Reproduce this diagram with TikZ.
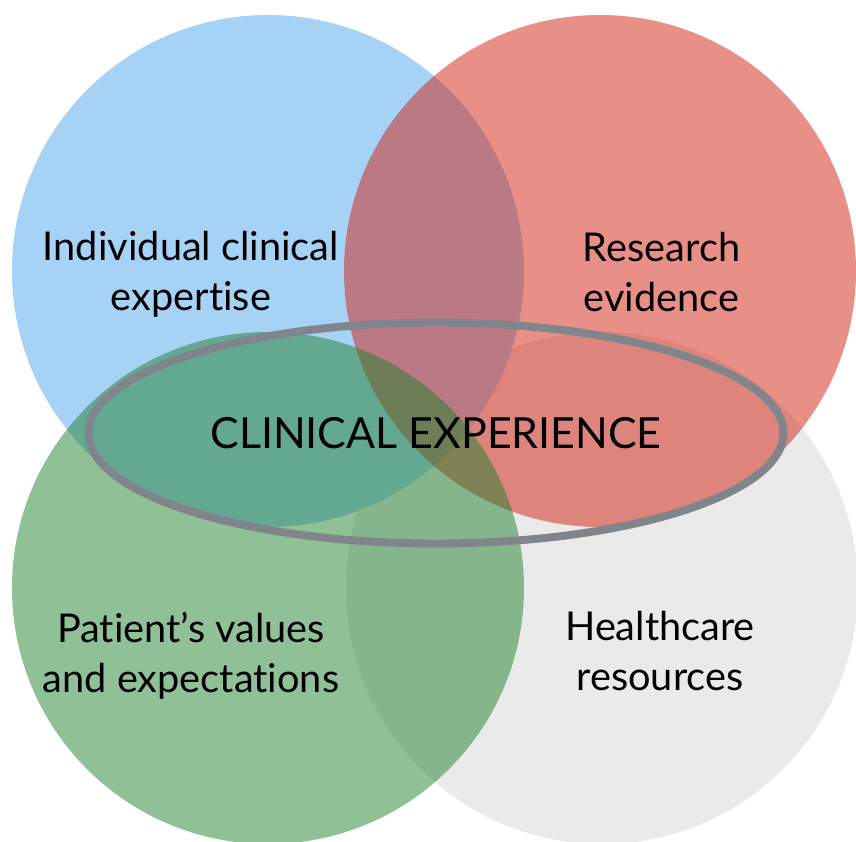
\documentclass[tikz,border=0pt]{standalone}
\usepackage{fontspec}
\setmainfont{Lato}[Ligatures={NoCommon}]
\usetikzlibrary{shapes.geometric,positioning}
\definecolor{expertblue}{RGB}{166,210,246}
\definecolor{evidred}{RGB}{209,33,17}
\definecolor{patgreen}{RGB}{33,129,45}
\definecolor{resgray}{RGB}{234,234,234}
\definecolor{ringgray}{RGB}{128,133,140}
\tikzset{
    disc/.style={
           draw=none,
           },
    veil/.style={
           fill opacity=0.5,
           },
    lab/.style={
           align=center,
           inner sep=0,
           font=\fontsize{22.6}{28.3}\selectfont,
           },
    ring/.style={
           ellipse,
           draw=ringgray,
           line width=4.5pt,
           minimum width=13.9cm,
           minimum height=4.42cm,
           inner sep=0,
           font=\fontsize{24.4}{28}\selectfont,
           }
}
\begin{document}
\begin{tikzpicture}
\useasboundingbox (0,0) rectangle (17.12,16.82);
\clip (0,0) rectangle (17.12,16.82);
% the four circles
\fill[disc, resgray] (12.04,5.06) circle (5.12cm);
\fill[disc, expertblue] (5.36,11.40) circle (5.12cm);
\fill[disc, veil, evidred] (12.00,11.40) circle (5.12cm);
\fill[disc, veil, patgreen] (5.36,5.06) circle (5.12cm);
% labels
\node[lab] (expert) at (3.82,11.34) {Individual clinical\\expertise};
\node[lab] (evid) at (13.23,11.38) {Research\\evidence};
\node[lab] (values) at (3.82,3.70) {Patient’s values\\and expectations};
\node[lab] (resources) at (13.20,3.80) {Healthcare\\resources};
% clinical experience
\node[ring] (exper) at (8.72,8.16) {CLINICAL EXPERIENCE};
\end{tikzpicture}
\end{document}
